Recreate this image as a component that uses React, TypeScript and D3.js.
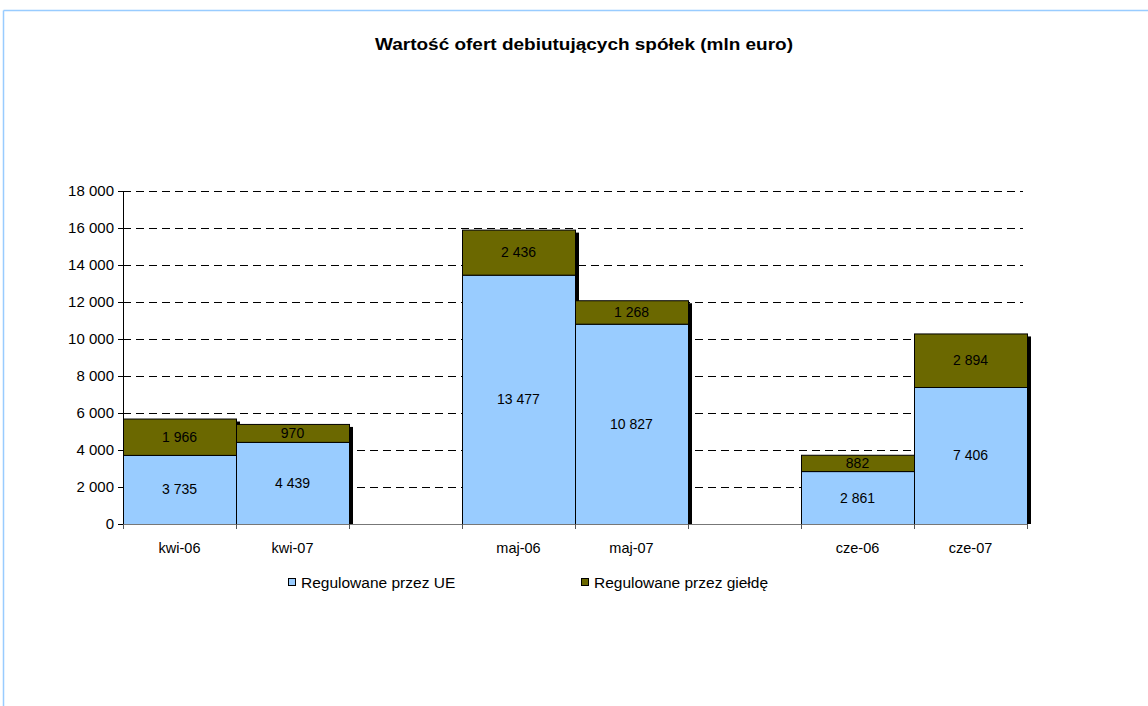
import React from "react";
import * as d3 from "d3";

const slots = ["kwi-06", "kwi-07", "", "maj-06", "maj-07", " ", "cze-06", "cze-07"];
const categories = ["kwi-06", "kwi-07", "maj-06", "maj-07", "cze-06", "cze-07"];
const ueValues = [3735, 4439, 13477, 10827, 2861, 7406];
const gieldaValues = [1966, 970, 2436, 1268, 882, 2894];
const yTicks = [0, 2000, 4000, 6000, 8000, 10000, 12000, 14000, 16000, 18000];
const seriesNames = ["Regulowane przez UE", "Regulowane przez giełdę"];
const colors = ["#99CCFF", "#6B6800"];

const fmt = (v: number) => d3.format(",")(v).replace(/,/g, " ");

export default function App() {
  const W = 1148, H = 706;
  const left = 123, right = 1027, top = 191, bottom = 524;
  const x = d3.scaleBand().domain(slots).range([left, right]).padding(0);
  const y = d3.scaleLinear().domain([0, 18000]).range([bottom, top]);
  const font = "Liberation Sans, Arial, sans-serif";
  const bars = categories.map((c, i) => ({ c, ue: ueValues[i], g: gieldaValues[i] }));
  const bw = x.bandwidth();

  return (
    <svg width={W} height={H} style={{ position: "absolute", left: 0, top: 0 }} fontFamily={font}>
      <rect x={0} y={0} width={W} height={H} fill="#fff" />
      <line x1={3.5} y1={10.5} x2={W} y2={10.5} stroke="#99CCFF" strokeWidth={1.5} />
      <line x1={3.5} y1={10.5} x2={3.5} y2={H} stroke="#99CCFF" strokeWidth={1.5} />
      <text x={584} y={50} textAnchor="middle" fontSize={17} fontWeight="bold" textLength={418} lengthAdjust="spacingAndGlyphs">
        Wartość ofert debiutujących spółek (mln euro)
      </text>
      {yTicks.filter((t) => t > 0).map((t) => (
        <line key={"g" + t} x1={left} x2={1023} y1={Math.round(y(t)) + 0.5} y2={Math.round(y(t)) + 0.5}
          stroke="#000" strokeDasharray="8,5" strokeWidth={1} />
      ))}
      {bars.map((b) => {
        const x0 = x(b.c)!;
        const yt = y(b.ue + b.g);
        return (
          <g key={b.c}>
            <rect x={x0 + 4} y={yt + 3} width={bw} height={bottom - yt - 3} fill="#000" />
            <rect x={x0 + 0.5} y={y(b.ue) + 0.5} width={bw} height={bottom - y(b.ue)} fill={colors[0]} stroke="#000" strokeWidth={1} />
            <rect x={x0 + 0.5} y={yt + 0.5} width={bw} height={y(b.ue) - yt} fill={colors[1]} stroke="#000" strokeWidth={1} />
          </g>
        );
      })}
      {bars.map((b) => {
        const cx = x(b.c)! + bw / 2;
        return (
          <g key={"l" + b.c} fontSize={14} textAnchor="middle">
            <text x={cx} y={(y(b.ue) + bottom) / 2 + 5}>{fmt(b.ue)}</text>
            <text x={cx} y={(y(b.ue) + y(b.ue + b.g)) / 2 + 5}>{fmt(b.g)}</text>
          </g>
        );
      })}
      <line x1={left + 0.5} x2={left + 0.5} y1={top} y2={bottom} stroke="#000" />
      <line x1={left - 5} x2={right} y1={bottom + 0.5} y2={bottom + 0.5} stroke="#777" />
      {yTicks.map((t) => (
        <g key={"t" + t}>
          <line x1={left - 5} x2={left} y1={Math.round(y(t)) + 0.5} y2={Math.round(y(t)) + 0.5} stroke="#000" />
          <text x={left - 9} y={y(t) + 5} textAnchor="end" fontSize={15}>{fmt(t)}</text>
        </g>
      ))}
      {slots.map((s, i) => (
        <line key={"xt" + i} x1={x(s)! + 0.5} x2={x(s)! + 0.5} y1={bottom} y2={bottom + 5} stroke="#555" />
      ))}
      <line x1={right + 0.5} x2={right + 0.5} y1={bottom} y2={bottom + 5} stroke="#555" />
      {categories.map((c) => (
        <text key={"xl" + c} x={x(c)! + bw / 2} y={553} textAnchor="middle" fontSize={14.5}>{c}</text>
      ))}
      {seriesNames.map((n, i) => {
        const lx = i === 0 ? 288 : 581;
        return (
          <g key={n}>
            <rect x={lx + 0.5} y={578.5} width={7} height={7} fill={colors[i]} stroke="#000" />
            <text x={lx + 13} y={588} fontSize={15.5}>{n}</text>
          </g>
        );
      })}
    </svg>
  );
}
